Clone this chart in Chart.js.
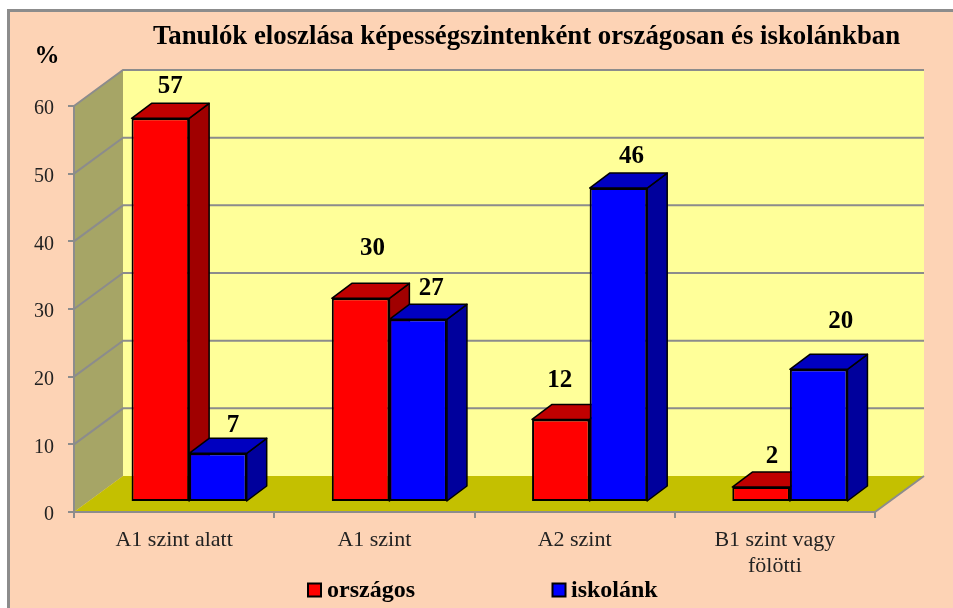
<!DOCTYPE html>
<html>
<head>
<meta charset="utf-8">
<script src="https://cdn.jsdelivr.net/npm/chart.js@4"></script>
<style>
html, body { margin: 0; padding: 0; background: #fff; overflow: hidden; }
#box { width: 953px; height: 608px; }
</style>
</head>
<body>
<div id="box"><canvas id="myChart" width="953" height="608"></canvas></div>
<script>
var chartTitle = 'Tanulók eloszlása képességszintenként országosan és iskolánkban';
var categories = ['A1 szint alatt', 'A1 szint', 'A2 szint', ['B1 szint vagy', 'fölötti']];
var orszagos = [56.7, 30.1, 12.2, 2.2];
var iskolank = [7.2, 27, 46.4, 19.6];
var seriesNames = ['országos', 'iskolánk'];
var yTicks = [0, 10, 20, 30, 40, 50, 60];

// label nudges from the bar's front top centre, [dataset][category]
var labelNudge = [
    [[10, -32], [12, -50], [-1, -39], [11, -31]],
    [[15, -28], [13, -31], [13, -31], [22, -48]]
];

var serif = '"Liberation Serif", "Times New Roman", serif';
var grey = '#8c8c8c';
var wall = {dx: 49, dy: 36};
var barShift = {dx: 15, dy: 10};
var barDepth = {dx: 20, dy: 15};
var faces = [
    {top: '#c00000', side: '#a00000'},
    {top: '#0000c0', side: '#00009c'}
];

function poly(ctx, pts, fill, stroke, width) {
    ctx.beginPath();
    pts.forEach(function (p, i) {
        if (i === 0) ctx.moveTo(p[0], p[1]);
        else ctx.lineTo(p[0], p[1]);
    });
    ctx.closePath();
    if (fill) { ctx.fillStyle = fill; ctx.fill(); }
    if (stroke) { ctx.strokeStyle = stroke; ctx.lineWidth = width; ctx.stroke(); }
}

var chart3d = {
    id: 'chart3d',
    afterLayout: function (chart) {
        // title sits right of the plot centre
        chart.titleBlock.left += 52;
        chart.titleBlock.right += 52;
    },
    beforeDraw: function (chart) {
        var ctx = chart.ctx;
        var a = chart.chartArea;
        var y = chart.scales.y;
        ctx.save();
        // page frame
        ctx.fillStyle = '#fdd3b5';
        ctx.fillRect(9, 10, chart.width, chart.height);
        ctx.strokeStyle = '#8c8c8c';
        ctx.lineWidth = 3;
        ctx.strokeRect(8.5, 10.5, chart.width + 10, chart.height + 10);
        // walls and floor
        var x0 = a.left, x1 = a.right, y0 = y.getPixelForValue(0), yT = y.getPixelForValue(60);
        var bx0 = x0 + wall.dx, bx1 = x1 + wall.dx;
        poly(ctx, [[bx0, yT - wall.dy], [bx1, yT - wall.dy], [bx1, y0 - wall.dy], [bx0, y0 - wall.dy]], '#ffff99');
        poly(ctx, [[x0, yT], [bx0, yT - wall.dy], [bx0, y0 - wall.dy], [x0, y0]], '#a6a566');
        poly(ctx, [[x0, y0], [bx0, y0 - wall.dy], [bx1, y0 - wall.dy], [x1, y0]], '#c4c000');
        // grid lines run along the side wall and the back wall
        ctx.strokeStyle = grey;
        ctx.lineWidth = 2;
        yTicks.forEach(function (v) {
            if (v === 0) return;
            var py = y.getPixelForValue(v);
            ctx.beginPath();
            ctx.moveTo(x0, py);
            ctx.lineTo(bx0, py - wall.dy);
            ctx.lineTo(bx1, py - wall.dy);
            ctx.stroke();
        });
        ctx.beginPath();
        ctx.moveTo(x1, y0);
        ctx.lineTo(bx1, y0 - wall.dy);
        ctx.stroke();
        ctx.restore();
    },
    beforeDatasetsDraw: function (chart) {
        var ctx = chart.ctx;
        ctx.save();
        ctx.translate(barShift.dx, -barShift.dy);
        // side and top faces go first, red then blue, so blue covers red
        chart.data.datasets.forEach(function (ds, i) {
            var f = faces[i];
            chart.getDatasetMeta(i).data.forEach(function (el) {
                var l = el.x - el.width / 2, r = el.x + el.width / 2;
                var d = barDepth;
                ctx.lineJoin = 'round';
                poly(ctx, [[r, el.y], [r + d.dx, el.y - d.dy], [r + d.dx, el.base - d.dy], [r, el.base]], f.side, '#000', 1.5);
                poly(ctx, [[l, el.y], [l + d.dx, el.y - d.dy], [r + d.dx, el.y - d.dy], [r, el.y]], f.top, '#000', 1.5);
            });
        });
    },
    afterDatasetsDraw: function (chart) {
        var ctx = chart.ctx;
        ctx.restore();
        ctx.save();
        // data labels
        ctx.font = 'bold 25px ' + serif;
        ctx.fillStyle = '#000';
        ctx.textAlign = 'center';
        ctx.textBaseline = 'middle';
        chart.data.datasets.forEach(function (ds, i) {
            chart.getDatasetMeta(i).data.forEach(function (el, j) {
                var n = labelNudge[i][j];
                ctx.fillText(Math.round(ds.data[j]), el.x + barShift.dx + n[0], el.y - barShift.dy + n[1]);
            });
        });
        ctx.fillText('%', 47, 57);
        // legend
        var swatchX = [308, 552.5];
        var textX = [327, 571];
        ctx.font = 'bold 24px ' + serif;
        ctx.textAlign = 'left';
        chart.data.datasets.forEach(function (ds, i) {
            ctx.fillStyle = ds.backgroundColor;
            ctx.strokeStyle = '#000';
            ctx.lineWidth = 2;
            ctx.fillRect(swatchX[i], 583.5, 13, 13);
            ctx.strokeRect(swatchX[i], 583.5, 13, 13);
            ctx.fillStyle = '#000';
            ctx.fillText(ds.label, textX[i], 591);
        });
        ctx.restore();
    }
};

var ctx = document.getElementById('myChart').getContext('2d');
var myChart = new Chart(ctx, {
    type: 'bar',
    data: {
        labels: categories,
        datasets: [
            {label: seriesNames[0], data: orszagos, backgroundColor: '#ff0000', borderColor: '#000', borderWidth: 2, borderSkipped: false},
            {label: seriesNames[1], data: iskolank, backgroundColor: '#0000ff', borderColor: '#000', borderWidth: 2, borderSkipped: false}
        ]
    },
    options: {
        responsive: false,
        animation: false,
        layout: {padding: {left: 0, right: 78, top: 0, bottom: 0}},
        datasets: {bar: {categoryPercentage: 0.575, barPercentage: 1}},
        plugins: {
            legend: {display: false},
            tooltip: {enabled: false},
            title: {
                display: true,
                text: chartTitle,
                color: '#000',
                fullSize: false,
                font: {family: serif, size: 26.8, weight: 'bold', lineHeight: 1},
                padding: {top: 24, bottom: 55.2}
            }
        },
        scales: {
            x: {
                afterFit: function (scale) { scale.height = 96; },
                grid: {drawOnChartArea: false, drawTicks: true, tickLength: 6, color: grey, lineWidth: 2},
                border: {color: grey, width: 2},
                ticks: {color: '#222', padding: 9, maxRotation: 0, font: {family: serif, size: 22}}
            },
            y: {
                min: 0,
                max: 60,
                afterFit: function (scale) { scale.width = 74; },
                grid: {drawOnChartArea: false, drawTicks: true, tickLength: 6, color: grey, lineWidth: 2},
                border: {color: grey, width: 2},
                ticks: {stepSize: 10, color: '#222', padding: 14, labelOffset: 3, font: {family: serif, size: 20}}
            }
        }
    },
    plugins: [chart3d]
});
</script>
</body>
</html>
